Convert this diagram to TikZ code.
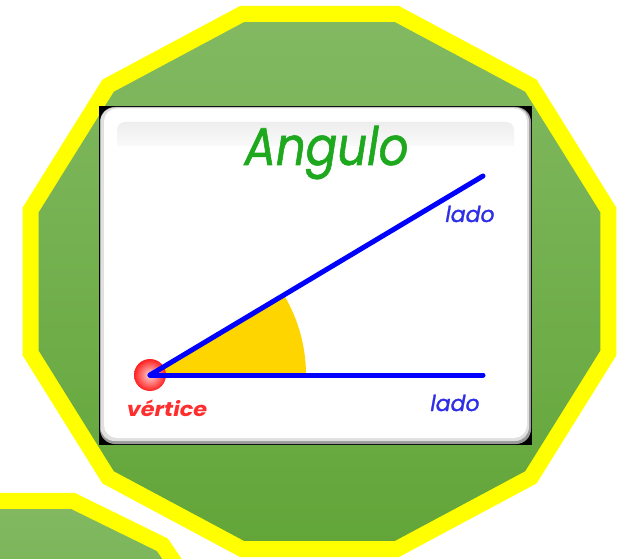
\documentclass[tikz,border=0pt]{standalone}
\usepackage{fontspec}
\usepackage{graphicx}
\newfontfamily\comicfont{Poppins}
\newfontfamily\comicmid[FakeBold=1.2]{Poppins}
\definecolor{greenTop}{HTML}{82B962}
\definecolor{greenBot}{HTML}{62A538}
\definecolor{rimYellow}{HTML}{FFFF00}
\definecolor{titleGreen}{HTML}{1EA81E}
\definecolor{ladoBlue}{HTML}{2E2EE6}
\definecolor{lineBlue}{HTML}{0000FF}
\definecolor{sectorGold}{HTML}{FFD500}
\definecolor{vertRed}{HTML}{FF2E2E}
\definecolor{ballRed}{HTML}{FF2020}
\definecolor{ballCore}{HTML}{FFD6D6}
\definecolor{cardEdge}{HTML}{9A9A9A}
\definecolor{panelTop}{HTML}{EEEEEE}
\tikzset{
  greenfill/.style={top color=greenTop, bottom color=greenBot},
  rim/.style={draw=rimYellow, line width=16pt, line join=miter},
  side/.style={draw=lineBlue, line width=5pt, line cap=round},
  ladotext/.style={inner sep=0pt, anchor=base, text=ladoBlue, font=\comicmid\itshape\fontsize{22}{26}\selectfont},
  titletext/.style={inner sep=0pt, anchor=base, text=titleGreen, font=\comicmid\itshape\fontsize{53}{60}\selectfont},
  verttext/.style={inner sep=0pt, anchor=base, text=vertRed, font=\comicfont\bfseries\itshape\fontsize{20}{24}\selectfont}
}
\begin{document}
\begin{tikzpicture}[x=1pt,y=-1pt]
\useasboundingbox (0,0) rectangle (619,559);
\clip (0,0) rectangle (619,559);
% small partial dodecagon bottom-left
\path[greenfill] ({21+200*cos(15)},{665-170*sin(15)})
  \foreach \a in {45,75,...,345} { -- ({21+200*cos(\a)},{665-170*sin(\a)}) } -- cycle;
\path[rim] ({21+200*cos(15)},{665-170*sin(15)})
  \foreach \a in {45,75,...,345} { -- ({21+200*cos(\a)},{665-170*sin(\a)}) } -- cycle;
% main dodecagon
\path[greenfill] ({319.5+299*cos(15)},{281.5-277*sin(15)})
  \foreach \a in {45,75,...,345} { -- ({319.5+299*cos(\a)},{281.5-277*sin(\a)}) } -- cycle;
\path[rim] ({319.5+299*cos(15)},{281.5-277*sin(15)})
  \foreach \a in {45,75,...,345} { -- ({319.5+299*cos(\a)},{281.5-277*sin(\a)}) } -- cycle;
% card
\fill[black] (99,106) rectangle (532,445);
\fill[cardEdge, rounded corners=15pt] (100,107) rectangle (531,444);
\fill[white!88!black, rounded corners=14pt] (100.5,107.5) rectangle (529,441);
\fill[white, rounded corners=13pt] (104,108.5) rectangle (527,438);
\shade[top color=panelTop, bottom color=white, rounded corners=8pt] (117,122) rectangle (514,156);
\fill[white] (117,146) rectangle (514,157);
% angle
\coordinate (V) at (150,375);
\coordinate (E1) at (483,176);
\coordinate (E2) at (483,375);
\fill[sectorGold] (V) -- ++(156pt,0pt) arc[start angle=0, end angle=30.8, radius=156pt] -- cycle;
\shade[inner color=ballCore, outer color=ballRed] (V) circle[radius=16pt];
\draw[side] (V) -- (E1);
\draw[side] (V) -- (E2);
% texts
\node[titletext] (title) at (326.5,165) {\scalebox{0.88}[1]{Angulo}};
\node[ladotext] (lado1) at (470,222) {lado};
\node[ladotext] (lado2) at (455,411) {lado};
\node[verttext] (vert) at (167,416) {\scalebox{1.12}[1]{vértice}};
\end{tikzpicture}
\end{document}
